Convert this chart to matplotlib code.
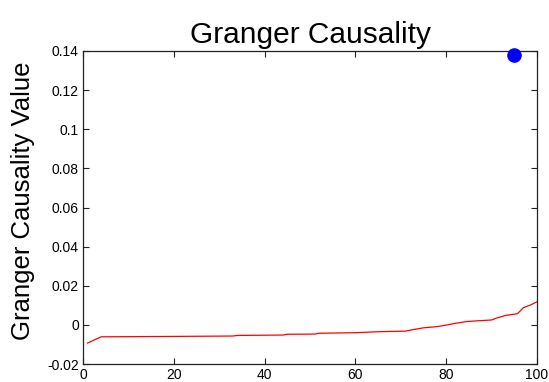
import numpy as np
import matplotlib
matplotlib.use('Agg')
import matplotlib.pyplot as plt

plt.rcParams['font.family'] = ['Liberation Sans', 'DejaVu Sans']

# sorted GC values
idx = [1, 4, 20, 33, 34, 44, 45, 51, 52, 60, 65, 71, 73, 75, 78, 80, 82, 84.5, 87, 90, 91, 93, 95.7, 97, 98.5, 100]
gc = [-0.0093, -0.0061, -0.0059, -0.0057, -0.0054, -0.0052, -0.0048, -0.0047, -0.0043, -0.0040, -0.0035, -0.0032,
      -0.0023, -0.0015, -0.0009, -0.0001, 0.0008, 0.0017, 0.0021, 0.0025, 0.0034, 0.0048, 0.0057, 0.0088, 0.0101, 0.0118]

# highlighted point
pt_x = [95]
pt_y = [0.138]

xticks = [0, 20, 40, 60, 80, 100]
yticks = [-0.02, 0, 0.02, 0.04, 0.06, 0.08, 0.1, 0.12, 0.14]
ylabels = ['-0.02', '0', '0.02', '0.04', '0.06', '0.08', '0.1', '0.12', '0.14']

fig = plt.figure(figsize=(5.49, 3.82), dpi=100)
ax = fig.add_axes([83/549, 1 - 364/382, (537-83)/549, (364-51)/382])

ax.plot(idx, gc, color='red', lw=0.9)
ax.plot(pt_x, pt_y, 'o', color='blue', markersize=9.5, clip_on=False, zorder=5)

ax.set_xlim(0, 100)
ax.set_ylim(-0.02, 0.14)
ax.set_xticks(xticks)
ax.set_yticks(yticks)
ax.set_yticklabels(ylabels)
ax.tick_params(direction='in', length=4, width=0.8, labelsize=10, top=True, right=True,
               colors='#222222', labelcolor='black', pad=3)
for s in ax.spines.values():
    s.set_linewidth(0.9)
    s.set_color('#222222')

ax.set_title('Granger Causality', fontsize=21.5, pad=6)
ax.set_ylabel('Granger Causality Value', fontsize=18.5, labelpad=9)
ax.yaxis.label.set_y(0.52)

fig.savefig('out.png', dpi=100)
